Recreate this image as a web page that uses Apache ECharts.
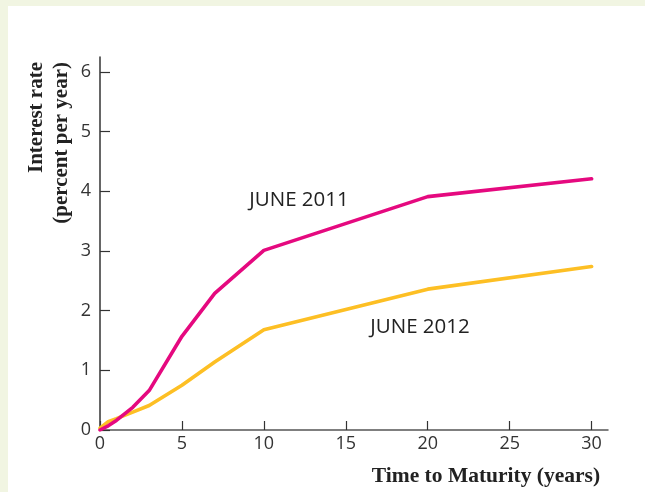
<!DOCTYPE html>
<html>
<head>
<meta charset="utf-8">
<script src="https://cdn.jsdelivr.net/npm/echarts@6/dist/echarts.min.js"></script>
<style>
html,body{margin:0;padding:0;background:#f1f5e2;}
#c{width:645px;height:492px;}
</style>
</head>
<body>
<div id="c"></div>
<script>
var maturities = [0, 0.5, 1, 2, 3, 5, 7, 10, 20, 30];
var june2011 = [0, 0.07, 0.16, 0.38, 0.66, 1.57, 2.29, 3.01, 3.91, 4.21];
var june2012 = [0.03, 0.14, 0.19, 0.30, 0.41, 0.75, 1.14, 1.68, 2.36, 2.74];
var xTicks = [0, 5, 10, 15, 20, 25, 30];
var yTicks = [0, 1, 2, 3, 4, 5, 6];
var seriesNames = ['JUNE 2011', 'JUNE 2012'];
var xTitle = 'Time to Maturity (years)';
var yTitle1 = 'Interest rate';
var yTitle2 = '(percent per year)';

function pairs(xs, ys) { return xs.map(function (x, i) { return [x, ys[i]]; }); }

var chart = echarts.init(document.getElementById('c'), null, {renderer: 'canvas'});
var tickFont = {fontFamily: 'Open Sans', fontSize: 18, color: '#333'};
chart.setOption({
  animation: false,
  backgroundColor: 'transparent',
  grid: {left: 100, top: 57, width: 508, height: 373},
  xAxis: {
    type: 'value', min: 0, max: 31,
    axisLine: {lineStyle: {color: '#555', width: 1.5}},
    axisTick: {inside: true, length: 9, lineStyle: {color: '#333', width: 1.2}, customValues: xTicks},
    axisLabel: Object.assign({margin: 5, customValues: xTicks}, tickFont),
    splitLine: {show: false}
  },
  yAxis: {
    type: 'value', min: 0, max: 6.25,
    axisLine: {show: true, lineStyle: {color: '#333', width: 1.5}},
    axisTick: {show: true, inside: true, length: 10, lineStyle: {color: '#333', width: 1.2}, customValues: yTicks},
    axisLabel: Object.assign({margin: 9, customValues: yTicks}, tickFont),
    splitLine: {show: false}
  },
  graphic: [
    {type: 'rect', z: -100, silent: true, shape: {x: 8, y: 6, width: 637, height: 486}, style: {fill: '#ffffff'}},
    {type: 'text', x: 37, y: 62, rotation: Math.PI / 2,
      style: {text: yTitle1, font: 'bold 21px "Liberation Serif"', fill: '#222', align: 'right', verticalAlign: 'middle'}},
    {type: 'text', x: 62, y: 62, rotation: Math.PI / 2,
      style: {text: yTitle2, font: 'bold 21px "Liberation Serif"', fill: '#222', align: 'right', verticalAlign: 'middle'}},
    {type: 'text', x: 486, y: 476,
      style: {text: xTitle, font: 'bold 21.5px "Liberation Serif"', fill: '#222', align: 'center', verticalAlign: 'middle'}},
    {type: 'text', x: 299, y: 200,
      style: {text: seriesNames[0], font: '20.5px "Open Sans"', fill: '#222', align: 'center', verticalAlign: 'middle'}},
    {type: 'text', x: 420, y: 327,
      style: {text: seriesNames[1], font: '20.5px "Open Sans"', fill: '#222', align: 'center', verticalAlign: 'middle'}}
  ],
  series: [
    {name: seriesNames[1], type: 'line', data: pairs(maturities, june2012), showSymbol: false, symbol: 'none',
      lineStyle: {color: '#fdbf24', width: 3.6, cap: 'round', join: 'round'}, z: 2},
    {name: seriesNames[0], type: 'line', data: pairs(maturities, june2011), showSymbol: false, symbol: 'none',
      lineStyle: {color: '#e5097f', width: 3.6, cap: 'round', join: 'round'}, z: 3}
  ]
});
</script>
</body>
</html>
